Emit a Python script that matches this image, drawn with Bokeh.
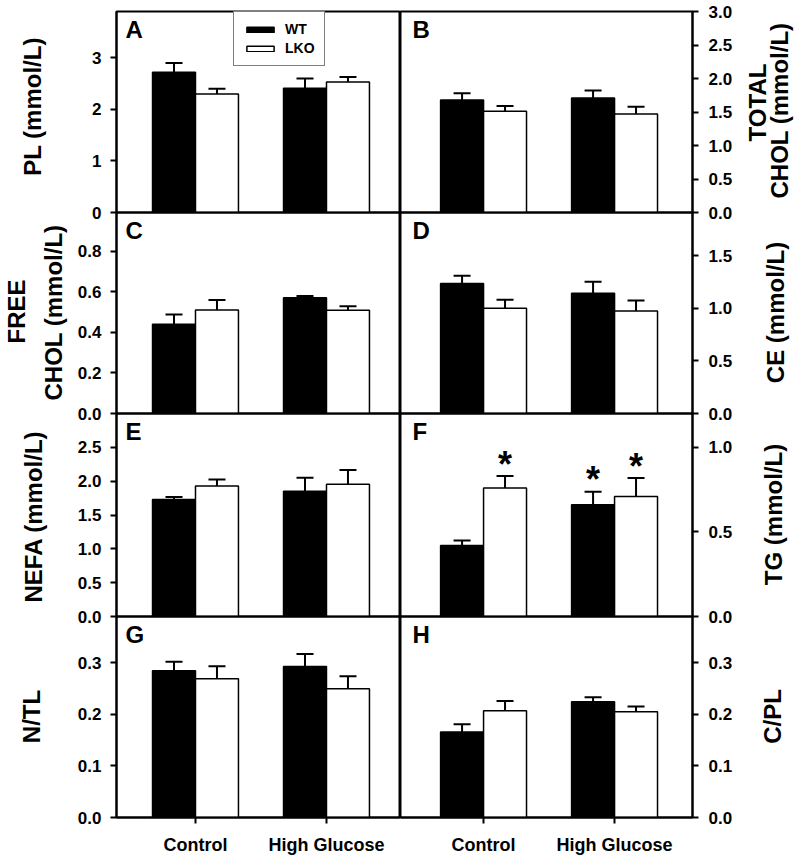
import math
from bokeh.plotting import figure
from bokeh.models import (ColumnDataSource, Range1d, FixedTicker, NumeralTickFormatter,
                          Whisker, TeeHead, Label, Legend, LegendItem)
from bokeh.layouts import row, column
from bokeh.embed import file_html
from bokeh.resources import INLINE
from bokeh.core.properties import value

FONT = "Liberation Sans"

# ---------------- data ----------------
groups = ["Control", "High Glucose"]
group_x = [1, 2]

pl_wt = [2.72, 2.41]
pl_wt_err = [0.18, 0.19]
pl_lko = [2.30, 2.53]
pl_lko_err = [0.10, 0.10]

tc_wt = [1.68, 1.71]
tc_wt_err = [0.10, 0.11]
tc_lko = [1.51, 1.47]
tc_lko_err = [0.08, 0.11]

fc_wt = [0.44, 0.57]
fc_wt_err = [0.048, 0.009]
fc_lko = [0.51, 0.508]
fc_lko_err = [0.049, 0.020]

ce_wt = [1.235, 1.143]
ce_wt_err = [0.075, 0.110]
ce_lko = [1.00, 0.973]
ce_lko_err = [0.080, 0.100]

nefa_wt = [1.73, 1.85]
nefa_wt_err = [0.035, 0.20]
nefa_lko = [1.93, 1.955]
nefa_lko_err = [0.095, 0.21]

tg_wt = [0.42, 0.661]
tg_wt_err = [0.030, 0.077]
tg_lko = [0.76, 0.709]
tg_lko_err = [0.070, 0.109]
tg_wt_sig = [False, True]
tg_lko_sig = [True, True]

ntl_wt = [0.2845, 0.293]
ntl_wt_err = [0.0175, 0.024]
ntl_lko = [0.269, 0.250]
ntl_lko_err = [0.0245, 0.024]

cpl_wt = [0.166, 0.2245]
cpl_wt_err = [0.015, 0.009]
cpl_lko = [0.207, 0.205]
cpl_lko_err = [0.019, 0.0105]

ticks_A = [0, 1, 2, 3]
ticks_B = [0.0, 0.5, 1.0, 1.5, 2.0, 2.5, 3.0]
ticks_C = [0.0, 0.2, 0.4, 0.6, 0.8]
ticks_D = [0.0, 0.5, 1.0, 1.5]
ticks_E = [0.0, 0.5, 1.0, 1.5, 2.0, 2.5]
ticks_F = [0.0, 0.5, 1.0]
ticks_G = [0.0, 0.1, 0.2, 0.3]
ticks_H = [0.0, 0.1, 0.2, 0.3]

# ---------------- layout constants ----------------
FW_L, FW_R = 284, 292
ROW_H = [201, 201, 203, 201]
XR_L = (0.397, 2.565)
XR_R = (0.366, 2.595)
HALF = 0.164
BW = 0.328
OVER = 10
TOP_B = 11
BOT_B = 40
LT_W = 70          # left title strip width
RT_W = 60          # right title strip width
TOTAL_H = TOP_B + sum(ROW_H) + BOT_B


def make_panel(col, rowi, letter, wt, wt_err, lko, lko_err, y_end, ticks, fmt,
               wt_sig=None, lko_sig=None, legend=False):
    left = col == 0
    fw = FW_L if left else FW_R
    fh = ROW_H[rowi]
    p = figure(frame_width=fw, frame_height=fh,
               x_range=Range1d(*(XR_L if left else XR_R)),
               y_range=Range1d(0, y_end),
               output_backend="svg", toolbar_location=None,
               y_axis_location="left" if left else "right",
               x_axis_location="below" if rowi == 3 else None,
               min_border_left=116 - LT_W if left else 0,
               min_border_right=0 if left else 48,
               min_border_top=TOP_B if rowi == 0 else OVER,
               min_border_bottom=BOT_B if rowi == 3 else OVER)
    p.background_fill_color = None
    p.border_fill_color = None
    p.outline_line_color = "black"
    p.outline_line_width = 2
    p.xgrid.visible = False
    p.ygrid.visible = False

    ax = p.yaxis[0]
    ax.ticker = FixedTicker(ticks=ticks, minor_ticks=[])
    ax.formatter = NumeralTickFormatter(format=fmt)
    ax.major_label_text_font = FONT
    ax.major_label_text_font_size = "17px"
    ax.major_label_text_font_style = "bold"
    ax.major_label_text_color = "black"
    ax.axis_line_width = 2
    ax.axis_line_color = "black"
    ax.major_tick_line_width = 2
    ax.major_tick_line_color = "black"
    ax.major_tick_out = 6
    ax.major_tick_in = 0
    ax.minor_tick_line_color = None
    ax.major_label_standoff = 9 if left else 10

    if rowi == 3:
        xa = p.xaxis[0]
        xa.ticker = FixedTicker(ticks=group_x, minor_ticks=[])
        xa.major_label_overrides = {gx: g for gx, g in zip(group_x, groups)}
        xa.major_label_text_font = FONT
        xa.major_label_text_font_size = "18px"
        xa.major_label_text_font_style = "bold"
        xa.major_label_text_color = "black"
        xa.axis_line_width = 2
        xa.major_tick_line_width = 2
        xa.major_tick_out = 6
        xa.major_tick_in = 0
        xa.minor_tick_line_color = None
        xa.major_label_standoff = 11

    src = ColumnDataSource(dict(
        x_wt=[g - HALF for g in group_x],
        x_lko=[g + HALF for g in group_x],
        wt=wt, wt_up=[v + e for v, e in zip(wt, wt_err)],
        lko=lko, lko_up=[v + e for v, e in zip(lko, lko_err)],
    ))
    r_wt = p.vbar(x="x_wt", top="wt", width=BW, fill_color="black",
                  line_color="black", line_width=1.5, source=src)
    r_lko = p.vbar(x="x_lko", top="lko", width=BW, fill_color="white",
                   line_color="black", line_width=1.5, source=src)
    for base, lo, up in (("x_wt", "wt", "wt_up"), ("x_lko", "lko", "lko_up")):
        p.add_layout(Whisker(source=src, base=base, lower=lo, upper=up,
                             line_width=2, line_color="black",
                             upper_head=TeeHead(size=17, line_width=2, line_color="black"),
                             lower_head=None))

    if wt_sig is not None:
        sx, sy = [], []
        for i, g in enumerate(group_x):
            if wt_sig[i]:
                sx.append(g - HALF); sy.append(wt[i] + wt_err[i])
            if lko_sig[i]:
                sx.append(g + HALF); sy.append(lko[i] + lko_err[i])
        p.text(x=sx, y=sy, text=["*"] * len(sx), text_align="center",
               text_baseline="alphabetic", y_offset=-12, text_font=value(FONT),
               text_font_style="bold", text_font_size="36px", text_color="black")

    # panel letter
    p.add_layout(Label(x=9 if left else 12, y=fh - 4, x_units="screen", y_units="screen",
                       text=letter, text_font=FONT, text_font_size="24px",
                       text_font_style="bold", text_baseline="top", text_align="left",
                       text_color="black"))

    if legend:
        lg = Legend(items=[LegendItem(label="WT", renderers=[r_wt]),
                           LegendItem(label="LKO", renderers=[r_lko])],
                    location=(117, 146), orientation="vertical",
                    border_line_color="black", border_line_width=1.5,
                    background_fill_color="white", background_fill_alpha=1,
                    padding=9, spacing=3, margin=0, label_standoff=8,
                    glyph_width=34, glyph_height=7, label_height=16,
                    label_text_font=FONT, label_text_font_size="14px",
                    label_text_font_style="bold", label_text_color="black")
        p.add_layout(lg)
    return p


def title_strip(width, titles):
    """Narrow strip that holds the rotated axis titles (page x, page y, text)."""
    s = figure(frame_width=width, frame_height=TOTAL_H, x_range=Range1d(0, 1),
               y_range=Range1d(0, 1), output_backend="svg", toolbar_location=None,
               x_axis_location=None, y_axis_location=None,
               min_border_left=0, min_border_right=0, min_border_top=0,
               min_border_bottom=0)
    s.background_fill_color = None
    s.border_fill_color = None
    s.outline_line_color = None
    s.xgrid.visible = False
    s.ygrid.visible = False
    for txt, xx, yy in titles:
        s.add_layout(Label(x=xx, y=TOTAL_H - yy, x_units="screen", y_units="screen",
                           text=txt, angle=math.pi / 2, text_align="center",
                           text_baseline="middle", text_font=FONT,
                           text_font_size="24px", text_font_style="bold",
                           text_color="black"))
    return s


pA = make_panel(0, 0, "A", pl_wt, pl_wt_err, pl_lko, pl_lko_err, 3.9, ticks_A, "0",
                legend=True)
pB = make_panel(1, 0, "B", tc_wt, tc_wt_err, tc_lko, tc_lko_err, 3.0, ticks_B, "0.0")
pC = make_panel(0, 1, "C", fc_wt, fc_wt_err, fc_lko, fc_lko_err, 0.99, ticks_C, "0.0")
pD = make_panel(1, 1, "D", ce_wt, ce_wt_err, ce_lko, ce_lko_err, 1.91, ticks_D, "0.0")
pE = make_panel(0, 2, "E", nefa_wt, nefa_wt_err, nefa_lko, nefa_lko_err, 3.0, ticks_E, "0.0")
pF = make_panel(1, 2, "F", tg_wt, tg_wt_err, tg_lko, tg_lko_err, 1.2, ticks_F, "0.0",
                wt_sig=tg_wt_sig, lko_sig=tg_lko_sig)
pG = make_panel(0, 3, "G", ntl_wt, ntl_wt_err, ntl_lko, ntl_lko_err, 0.39, ticks_G, "0.0")
pH = make_panel(1, 3, "H", cpl_wt, cpl_wt_err, cpl_lko, cpl_lko_err, 0.39, ticks_H, "0.0")

left_titles = title_strip(LT_W, [
    ("PL (mmol/L)", 32, 106),
    ("FREE", 16, 311),
    ("CHOL (mmol/L)", 53, 312),
    ("NEFA (mmol/L)", 33, 516),
    ("N/TL", 31, 716),
])
right_titles = title_strip(RT_W, [
    ("TOTAL", 757 - 740, 102),
    ("CHOL (mmol/L)", 779 - 740, 110),
    ("CE (mmol/L)", 775 - 740, 312),
    ("TG (mmol/L)", 773 - 740, 514),
    ("C/PL", 772 - 740, 716),
])

rows = [row(pA, pB), row(pC, pD), row(pE, pF), row(pG, pH)]
for r in rows[1:]:
    r.margin = (-2 * OVER, 0, 0, 0)
panels = column(*rows)
layout = row(left_titles, panels, right_titles)

open("out.html", "w").write(file_html(layout, INLINE))
